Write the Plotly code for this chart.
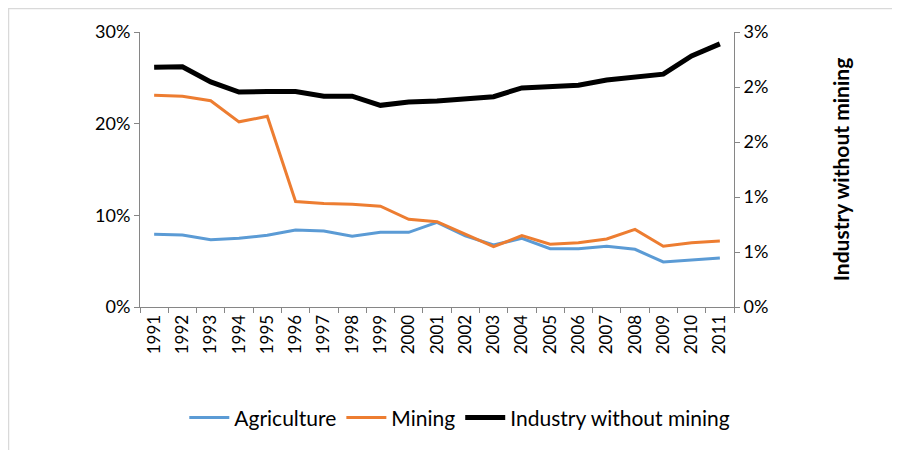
import plotly.graph_objects as go

# data
years = [str(y) for y in range(1991, 2012)]
agriculture = [7.93, 7.85, 7.35, 7.49, 7.82, 8.40, 8.29, 7.71, 8.15, 8.15, 9.24,
               7.75, 6.76, 7.49, 6.36, 6.36, 6.62, 6.29, 4.91, 5.16, 5.35]
mining = [23.1, 23.0, 22.5, 20.2, 20.8, 11.5, 11.3, 11.2, 11.0, 9.57, 9.3,
          7.96, 6.58, 7.78, 6.84, 7.02, 7.42, 8.47, 6.62, 7.02, 7.2]
industry = [2.615, 2.62, 2.455, 2.345, 2.35, 2.35, 2.30, 2.30, 2.20, 2.236, 2.247,
            2.277, 2.294, 2.39, 2.40, 2.42, 2.476, 2.506, 2.54, 2.738, 2.87]

left_ticks = [0, 10, 20, 30]
left_labels = ["0%", "10%", "20%", "30%"]
right_ticks = [0, 0.6, 1.2, 1.8, 2.4, 3.0]
right_labels = ["0%", "1%", "1%", "2%", "2%", "3%"]

font = "Lato, 'Open Sans', sans-serif"

fig = go.Figure()
fig.add_trace(go.Scatter(x=years, y=agriculture, name="Agriculture", mode="lines",
                         line=dict(color="#5B9BD5", width=3)))
fig.add_trace(go.Scatter(x=years, y=mining, name="Mining", mode="lines",
                         line=dict(color="#ED7D31", width=3)))
fig.add_trace(go.Scatter(x=years, y=industry, name="Industry without mining", mode="lines",
                         line=dict(color="black", width=5), yaxis="y2"))

axis_col = "#868686"
# page body has an 8px margin, so margins are shifted to compensate
fig.update_layout(
    width=900, height=450,
    margin=dict(l=132, r=174, t=24, b=151),
    plot_bgcolor="white", paper_bgcolor="white",
    font=dict(family=font, size=16, color="black"),
    showlegend=True,
    legend=dict(orientation="h", xref="container", yref="container",
                x=0.502, xanchor="center", y=0.089, yanchor="middle",
                font=dict(size=21), itemwidth=40, tracegroupgap=0),
    xaxis=dict(type="category", tickson="boundaries", ticks="outside", ticklen=5,
               tickcolor=axis_col, showline=True, linecolor=axis_col, linewidth=1,
               tickangle=-90, tickfont=dict(size=17), showgrid=False, zeroline=False,
               range=[-0.5, 20.5], automargin=False),
    yaxis=dict(range=[0, 30], tickvals=left_ticks, ticktext=left_labels,
               ticks="outside", ticklen=5, tickcolor=axis_col, showline=True,
               linecolor=axis_col, linewidth=1, showgrid=False, zeroline=False,
               tickfont=dict(size=18), automargin=False),
    yaxis2=dict(range=[0, 3], tickvals=right_ticks, ticktext=right_labels,
                overlaying="y", side="right", ticks="outside", ticklen=5,
                tickcolor=axis_col, showline=True, linecolor=axis_col, linewidth=1,
                showgrid=False, zeroline=False, tickfont=dict(size=18),
                automargin=False,
                title=dict(text="<b>Industry without mining</b>", font=dict(size=21),
                           standoff=66)),
)

# chart area border (Excel style)
fig.add_shape(type="rect", xref="paper", yref="paper",
              x0=-0.2214, x1=1.32, y0=-0.6, y1=1.0855,
              line=dict(color="#D9D9D9", width=1.5), layer="below")

fig.write_html("out.html")
